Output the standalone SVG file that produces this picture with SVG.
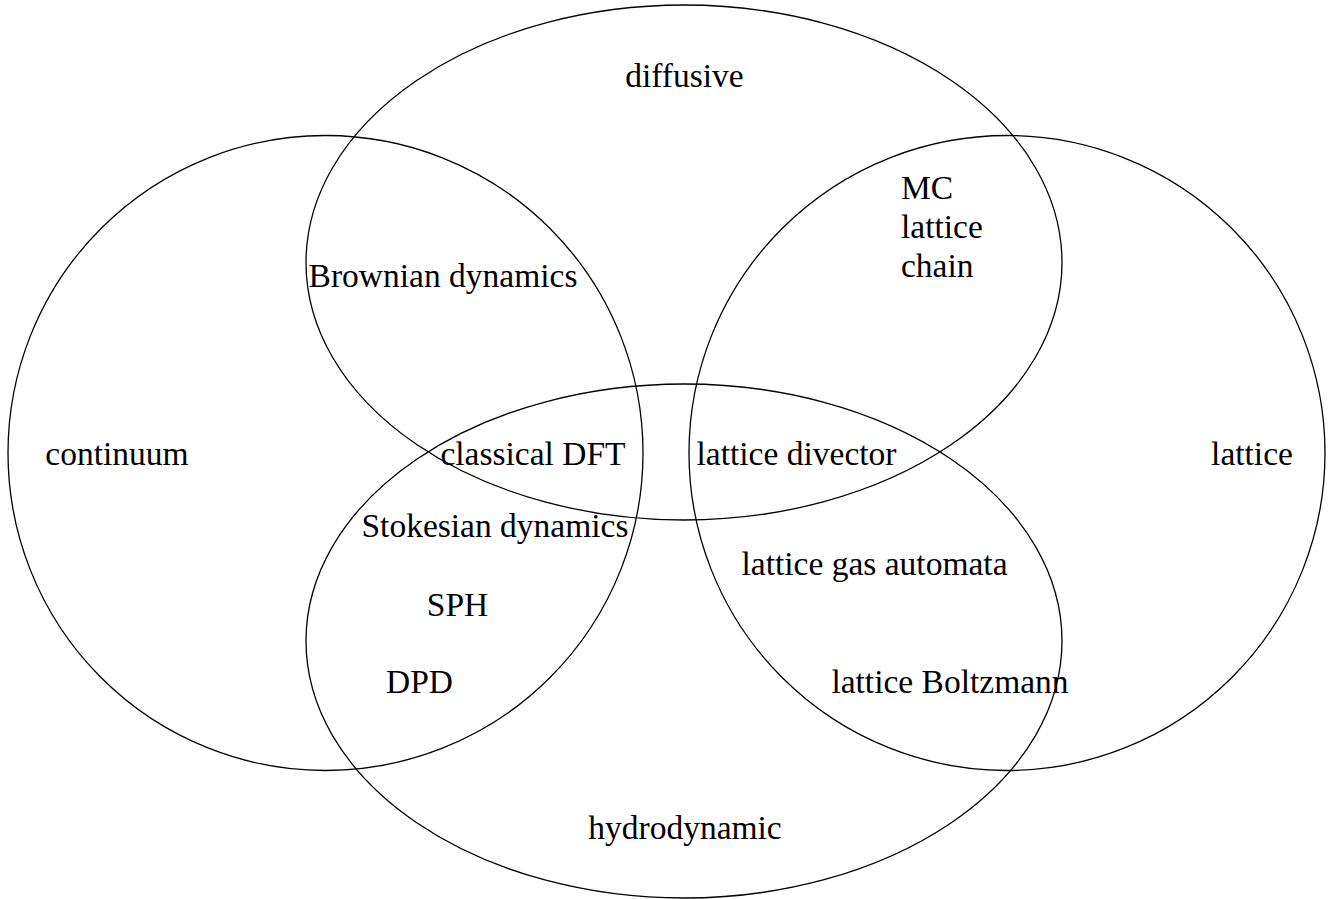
<svg xmlns="http://www.w3.org/2000/svg" width="1331" height="899" viewBox="0 0 1331 899">
<style>
.set{fill:none;stroke:#000;stroke-width:1.3}
text{font-family:"Liberation Serif","DejaVu Serif",serif;font-size:33.5px;fill:#000}
.m{text-anchor:middle}
</style>
<rect width="1331" height="899" fill="#fff"/>
<g id="sets">
<g id="continuum"><ellipse class="set" cx="325.5" cy="453" rx="317.5" ry="317.5"/><text class="m" x="117" y="465">continuum</text></g>
<g id="lattice"><ellipse class="set" cx="1007" cy="453" rx="318" ry="317.5"/><text class="m" x="1252" y="465">lattice</text></g>
<g id="diffusive"><ellipse class="set" cx="684" cy="262.5" rx="378" ry="257.5"/><text class="m" x="684.5" y="87">diffusive</text></g>
<g id="hydrodynamic"><ellipse class="set" cx="684" cy="641" rx="378" ry="257"/><text class="m" x="685" y="839">hydrodynamic</text></g>
</g>
<g id="labels">
<g id="mc"><text x="901" y="199">MC</text><text x="901" y="238">lattice</text><text x="901" y="277">chain</text></g>
<g id="brownian"><text class="m" x="443" y="287">Brownian dynamics</text></g>
<g id="dft"><text class="m" x="533" y="465">classical DFT</text></g>
<g id="divector"><text class="m" x="796.5" y="465">lattice divector</text></g>
<g id="stokesian"><text class="m" x="495" y="537">Stokesian dynamics</text></g>
<g id="sph"><text class="m" x="457.5" y="616">SPH</text></g>
<g id="dpd"><text class="m" x="419.5" y="693">DPD</text></g>
<g id="lga"><text class="m" x="874.5" y="575">lattice gas automata</text></g>
<g id="lb"><text class="m" x="950" y="693">lattice Boltzmann</text></g>
</g>
<g id="connectors"></g>
</svg>
